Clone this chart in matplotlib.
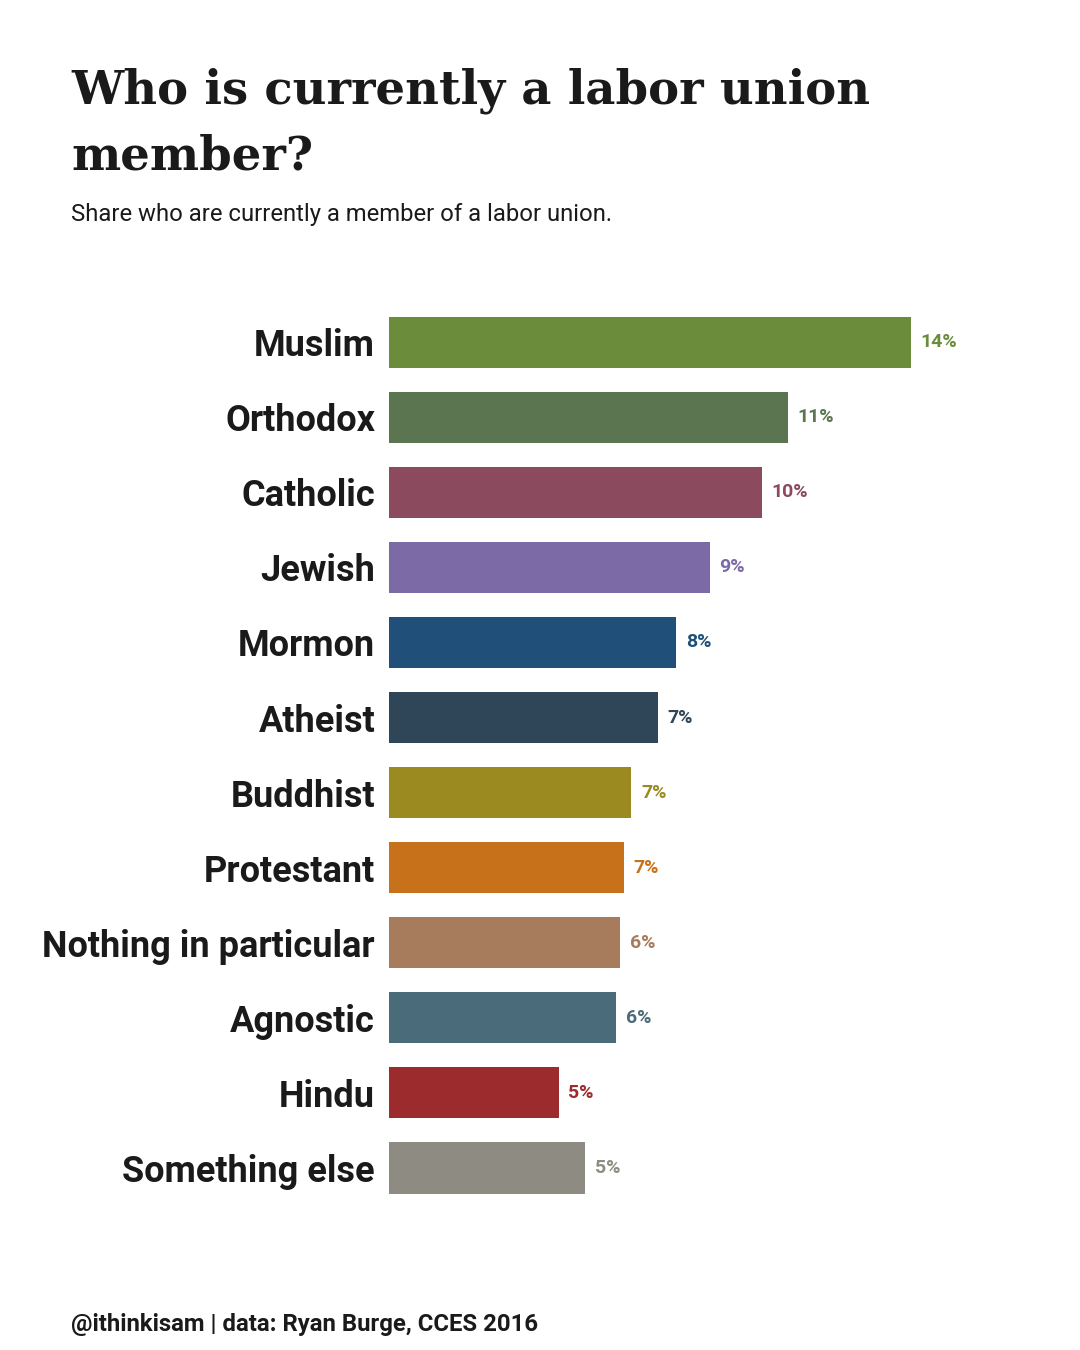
import matplotlib.pyplot as plt
import matplotlib.ticker as mticker

categories = ['Muslim', 'Orthodox', 'Catholic', 'Jewish', 'Mormon', 'Atheist',
              'Buddhist', 'Protestant', 'Nothing in particular', 'Agnostic',
              'Hindu', 'Something else']
shares = [0.140, 0.107, 0.100, 0.086, 0.077, 0.072,
          0.065, 0.063, 0.062, 0.061, 0.0455, 0.0525]
labels = ['14%', '11%', '10%', '9%', '8%', '7%', '7%', '7%', '6%', '6%', '5%', '5%']
colors = ['#6a8c3b', '#5a7550', '#8b4a5e', '#7b6aa6', '#20507a', '#2e4657',
          '#9b8a1f', '#c8711b', '#a67c5c', '#4a6b7a', '#9c2b2d', '#8e8b82']

narrow = ['Roboto', 'DejaVu Sans']

fig = plt.figure(figsize=(10.8, 13.5), dpi=100)
ax = fig.add_axes([389 / 1080, 0.107, (1023 - 389) / 1080, 0.7744 - 0.107])

y = list(range(len(categories)))
ax.barh(y, shares, height=0.68, color=colors)
ax.set_ylim(len(categories) - 0.5, -0.5)
ax.set_xlim(0, 0.17)

for yi, val, lab, c in zip(y, shares, labels, colors):
    ax.annotate(lab, (val, yi), xytext=(7, 0), textcoords='offset points',
                va='center', ha='left', color=c, fontsize=14,
                fontweight='bold', family=narrow)

ax.set_yticks(y)
ax.set_yticklabels(categories, family=narrow, fontweight='bold', fontsize=26,
                   color='#1a1a1a')
ax.tick_params(axis='y', length=0, pad=10)
ax.xaxis.set_major_locator(mticker.NullLocator())
for s in ax.spines.values():
    s.set_visible(False)

fig.text(71 / 1080, 1 - 104 / 1350, 'Who is currently a labor union',
         family=['DejaVu Serif'], fontweight='bold', fontsize=33.5,
         color='#1a1a1a', va='baseline')
fig.text(71 / 1080, 1 - 170 / 1350, 'member?',
         family=['DejaVu Serif'], fontweight='bold', fontsize=33.5,
         color='#1a1a1a', va='baseline')
fig.text(71 / 1080, 1 - 221 / 1350,
         'Share who are currently a member of a labor union.',
         family=narrow, fontsize=17.2, color='#1a1a1a', va='baseline')
fig.text(71 / 1080, 1 - 1331 / 1350,
         '@ithinkisam | data: Ryan Burge, CCES 2016',
         family=narrow, fontweight='bold', fontsize=17.2, color='#1a1a1a',
         va='baseline')

fig.savefig('out.png', dpi=100, facecolor='white')
